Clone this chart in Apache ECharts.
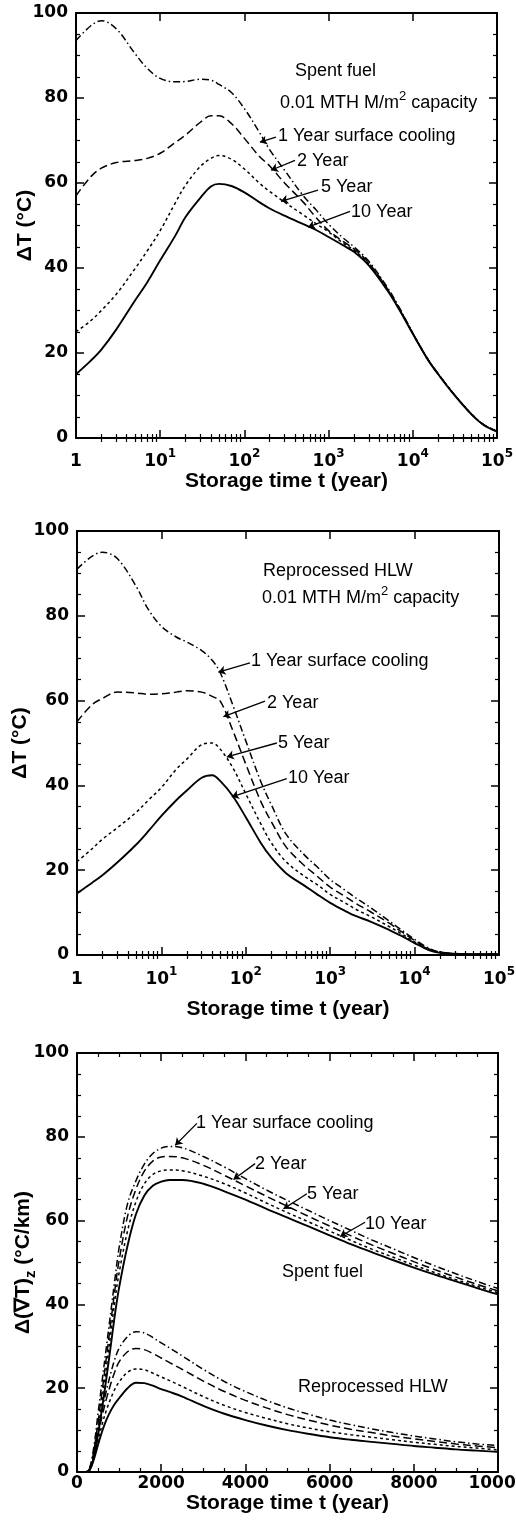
<!DOCTYPE html>
<html><head><meta charset="utf-8">
<script src="https://cdn.jsdelivr.net/npm/echarts@6/dist/echarts.min.js"></script>
<style>html,body{margin:0;padding:0;background:#fff}#c{width:516px;height:1529px}</style>
</head><body><div id="c"></div>
<script>
// ---------- DATA ----------
// Panels 1 and 2: storage time t (year), log scale
const tLog = [1,1.5,2,3,5,7,10,15,20,30,40,50,70,100,150,200,300,500,700,1000,1500,2000,3000,5000,7000,10000,15000,20000,30000,50000,70000,100000];

// Panel 1: Spent fuel, 0.01 MTHM/m2, Delta T (deg C)
const p1_1y  = [93.5,97,98.2,96.3,90.5,87,84.6,83.8,83.9,84.4,84.2,83.2,81.3,77.5,72,67.8,63,57,53.8,50.3,47,45,41.6,35.4,30.5,24.7,18.6,15.1,10.6,5.6,3.1,1.6];
const p1_2y  = [57,61.5,63.5,64.8,65.3,65.8,67,69.5,71.3,74.3,75.8,75.8,74,70.5,66.3,64,60,55.5,52,48.8,46.2,44.5,41.2,35.1,30.3,24.6,18.6,15.1,10.6,5.6,3.1,1.6];
const p1_5y  = [25,27.6,30,33.8,39.8,44,48.8,55.2,59.5,63.9,65.8,66.5,65.6,63.3,60,58,55.5,52.5,50.5,48.5,45.8,44.2,41,35,30.2,24.6,18.6,15.1,10.6,5.6,3.1,1.6];
const p1_10y = [15,18.2,20.8,25.5,32.3,36.6,41.8,47.5,52,56.5,59.2,59.8,59.3,57.8,55.5,54,52.3,50.3,49,47.3,45.3,43.8,40.6,34.7,30,24.5,18.5,15,10.5,5.5,3,1.5];

// Panel 2: Reprocessed HLW, 0.01 MTHM/m2, Delta T (deg C)
const p2_1y  = [91,94,95,93.5,87,81.5,77.5,75,73.8,71.8,69.5,66.5,59,50.5,41,35.5,28.5,23.5,20.8,17.8,15.3,13.5,11.2,8,5.9,3.7,1.5,0.7,0.3,0.2,0.2,0.2];
const p2_2y  = [55,59,60.5,62,61.8,61.5,61.6,62,62.3,62,61,59.8,53,45,36.3,31.5,25.5,21,18.6,16,13.8,12.2,10.2,7.5,5.5,3.4,1.4,0.7,0.3,0.2,0.2,0.2];
const p2_5y  = [22,25,27.3,30,33.6,36.5,39.5,43.8,46.2,49.6,50,48.5,44.2,38,31,26.5,22,18.5,16.6,14.3,12.3,10.8,9.1,6.7,5,3.1,1.3,0.6,0.3,0.2,0.2,0.2];
const p2_10y = [14.5,17,18.8,21.8,26,29.2,32.8,36.5,38.8,41.8,42.4,41,37.5,32.5,26.5,23,19.3,16.3,14.3,12.3,10.4,9.2,7.9,5.9,4.5,2.8,1.1,0.5,0.3,0.2,0.2,0.2];

// Panel 3: storage time t (year), linear scale; Delta(grad T)z (deg C/km)
const tLin = [0,200,300,400,500,600,700,800,900,1000,1200,1400,1600,1800,2000,2200,2500,3000,3500,4000,4500,5000,5500,6000,6500,7000,7500,8000,8500,9000,9500,10000];
const sf_1y   = [0,0,1,6,14,22,30,38,46,53.5,64,69.5,73.5,76,77.3,77.7,77.4,75.3,72.8,70,67.3,64.8,62.4,60,57.7,55.4,53.3,51.2,49.2,47.3,45.5,43.8];
const sf_2y   = [0,0,0.8,5,12,19.5,27.5,35.5,43.5,50.5,61,67.5,71.8,74.2,75.2,75.3,75,73.2,70.8,68.3,65.8,63.4,61,58.7,56.4,54.2,52.2,50.2,48.3,46.5,44.8,43.2];
const sf_5y   = [0,0,0.6,4,10,17.5,25,33,41,47.5,57.5,64.5,68.8,71,71.9,72.1,71.9,70.6,68.8,66.6,64.2,61.9,59.7,57.5,55.3,53.2,51.3,49.4,47.6,45.9,44.3,42.8];
const sf_10y  = [0,0,0.5,3.5,9,15.5,22.5,30,37.5,44,54,61.5,66,68.3,69.3,69.7,69.7,68.8,67,65,62.8,60.7,58.6,56.5,54.4,52.5,50.6,48.8,47.1,45.5,43.9,42.4];
const hlw_1y  = [0,0,0.8,5,10.5,15,19.5,23.5,27,29.5,32.3,33.5,33.2,32.1,30.8,29.6,27.7,24.5,21.6,19.2,17.1,15.3,13.8,12.4,11.3,10.3,9.4,8.6,7.9,7.2,6.7,6.3];
const hlw_2y  = [0,0,0.6,4,9,13.5,17.5,21,24,26.3,28.7,29.5,29.2,28.3,27.2,26.1,24.5,21.7,19.2,17.1,15.3,13.7,12.4,11.2,10.2,9.4,8.6,7.9,7.3,6.7,6.2,5.8];
const hlw_5y  = [0,0,0.5,3.5,7.5,11.5,14.8,17.5,19.8,21.5,23.8,24.6,24.4,23.6,22.7,21.8,20.4,18,15.9,14.2,12.8,11.5,10.5,9.6,8.9,8.3,7.7,7.1,6.6,6.1,5.7,5.3];
const hlw_10y = [0,0,0.5,3,6.5,9.8,12.5,14.6,16.3,17.6,20,21.3,21.2,20.6,19.8,19.1,18,15.8,13.9,12.4,11.1,10,9.1,8.3,7.7,7.2,6.7,6.2,5.8,5.4,5.1,4.8];

// Tick values & labels
const logMajor = [1,10,100,1000,10000,100000];
const logTickLabels = ['{b|1}','{b|10}{s|1}','{b|10}{s|2}','{b|10}{s|3}','{b|10}{s|4}','{b|10}{s|5}'];
const linMajor = [0,2000,4000,6000,8000,10000];
const linTickLabels = ['0','2000','4000','6000','8000','10000'];
const yMajor = [0,20,40,60,80,100];
const yTickLabels = ['0','20','40','60','80','100'];
const curveNames = ['1 Year surface cooling','2 Year','5 Year','10 Year'];

// ---------- STYLE ----------
const INK = '#000';
const TICKFONT = 'DejaVu Sans';
const TITLEFONT = 'Liberation Sans';
const dashes = [[7,3,1.5,3],[8,4],[3,3],'solid'];
const widths = [1.5,1.5,1.5,1.9];

const logMinor = [];
for (let d = 1; d < 100000; d *= 10) for (let k = 2; k <= 9; k++) logMinor.push(k * d);

function nearestIdx(arr, v) {
  let best = 0, bd = Infinity;
  arr.forEach((a, i) => { const d = Math.abs(Math.log10(a || 1e-9) - Math.log10(v || 1e-9)); if (d < bd) { bd = d; best = i; } });
  return best;
}

const richTick = {
  b: {fontFamily: TICKFONT, fontWeight: 'bold', fontSize: 17, lineHeight: 22, verticalAlign: 'bottom', color: INK},
  s: {fontFamily: TICKFONT, fontWeight: 'bold', fontSize: 12, lineHeight: 12, verticalAlign: 'top', color: INK}
};
const titleStyle = {fontFamily: TITLEFONT, fontWeight: 'bold', fontSize: 21, color: INK};

function logXAxes(gi, margin, nameGap) {
  const common = {type: 'log', logBase: 10, min: 1, max: 100000, gridIndex: gi, splitLine: {show: false}};
  return [
    Object.assign({}, common, {
      position: 'bottom',
      axisLine: {show: true, onZero: false, lineStyle: {color: INK, width: 2}},
      axisTick: {show: true, inside: true, length: 8, customValues: logMajor, lineStyle: {color: INK, width: 1.5}},
      axisLabel: {show: true, customValues: logMajor, margin: margin, alignMinLabel: 'center', alignMaxLabel: 'center',
        formatter: v => logTickLabels[nearestIdx(logMajor, v)], rich: richTick},
      name: 'Storage time t (year)', nameLocation: 'middle', nameGap: nameGap, nameTextStyle: titleStyle
    }),
    Object.assign({}, common, {
      position: 'bottom', axisLine: {show: false},
      axisTick: {show: true, inside: true, length: 4, customValues: logMinor, lineStyle: {color: INK, width: 1.2}},
      axisLabel: {show: false}
    }),
    Object.assign({}, common, {
      position: 'top',
      axisLine: {show: true, onZero: false, lineStyle: {color: INK, width: 2}},
      axisTick: {show: true, inside: true, length: 8, customValues: logMajor, lineStyle: {color: INK, width: 1.5}},
      axisLabel: {show: false}
    }),
    Object.assign({}, common, {
      position: 'top', axisLine: {show: false},
      axisTick: {show: true, inside: true, length: 4, customValues: logMinor, lineStyle: {color: INK, width: 1.2}},
      axisLabel: {show: false}
    })
  ];
}

function linXAxes(gi, margin, nameGap) {
  const common = {type: 'value', min: 0, max: 10000, interval: 2000, gridIndex: gi, splitLine: {show: false},
    minorTick: {show: true, splitNumber: 4, length: 4, lineStyle: {color: INK, width: 1.2}}};
  return [
    Object.assign({}, common, {
      position: 'bottom',
      axisLine: {show: true, onZero: false, lineStyle: {color: INK, width: 2}},
      axisTick: {show: true, inside: true, length: 8, lineStyle: {color: INK, width: 1.5}},
      axisLabel: {show: true, margin: margin, fontFamily: TICKFONT, fontWeight: 'bold', fontSize: 17, color: INK,
        alignMinLabel: 'center', alignMaxLabel: 'center',
        formatter: v => linTickLabels[linMajor.indexOf(v)]},
      name: 'Storage time t (year)', nameLocation: 'middle', nameGap: nameGap, nameTextStyle: titleStyle
    }),
    Object.assign({}, common, {
      position: 'top',
      axisLine: {show: true, onZero: false, lineStyle: {color: INK, width: 2}},
      axisTick: {show: true, inside: true, length: 8, lineStyle: {color: INK, width: 1.5}},
      axisLabel: {show: false}
    })
  ];
}

function yAxes(gi, name, nameGap, rich) {
  const common = {type: 'value', min: 0, max: 100, interval: 20, gridIndex: gi, splitLine: {show: false},
    axisTick: {show: true, inside: true, length: 8, lineStyle: {color: INK, width: 1.5}},
    minorTick: {show: true, splitNumber: 4, length: 4, lineStyle: {color: INK, width: 1.2}}};
  const nts = Object.assign({}, titleStyle);
  if (rich) nts.rich = rich;
  return [
    Object.assign({}, common, {
      position: 'left',
      axisLine: {show: true, onZero: false, lineStyle: {color: INK, width: 2}},
      axisLabel: {show: true, margin: 8, fontFamily: TICKFONT, fontWeight: 'bold', fontSize: 17, color: INK,
        formatter: v => yTickLabels[yMajor.indexOf(v)]},
      name: name, nameLocation: 'middle', nameRotate: 90, nameGap: nameGap, nameMoveOverlap: false, nameTextStyle: nts
    }),
    Object.assign({}, common, {
      position: 'right',
      axisLine: {show: true, onZero: false, lineStyle: {color: INK, width: 2}},
      axisLabel: {show: false}
    })
  ];
}

function zip(xs, ys) { return xs.map((x, i) => [x, ys[i]]); }

function arrow(from, to) {
  return {
    silent: true, animation: false, symbol: ['none', 'arrow'], symbolSize: 7,
    label: {show: false}, emphasis: {disabled: true},
    lineStyle: {type: 'solid', color: INK, width: 1.3},
    data: [[{coord: from}, {coord: to}]]
  };
}

function curve(name, k, xi, yi, xs, ys, arr) {
  const s = {
    name: name, type: 'line', xAxisIndex: xi, yAxisIndex: yi, data: zip(xs, ys),
    showSymbol: false, symbol: 'none', smooth: 0.35, silent: true, animation: false,
    lineStyle: {color: INK, width: widths[k], type: dashes[k]}
  };
  if (arr) s.markLine = arrow(arr[0], arr[1]);
  return s;
}

const series = [
  // panel 1
  curve(curveNames[0], 0, 0, 0, tLog, p1_1y,  [[237,70.8],[153,69.6]]),
  curve(curveNames[1], 1, 0, 0, tLog, p1_2y,  [[399,65.3],[207,63.0]]),
  curve(curveNames[2], 2, 0, 0, tLog, p1_5y,  [[748,58.3],[272,55.7]]),
  curve(curveNames[3], 3, 0, 0, tLog, p1_10y, [[1795,53.3],[569,49.6]]),
  // panel 2
  curve(curveNames[0], 0, 4, 2, tLog, p2_1y,  [[112,68.9],[47.4,66.7]]),
  curve(curveNames[1], 1, 4, 2, tLog, p2_2y,  [[169,59.9],[54.3,56.2]]),
  curve(curveNames[2], 2, 4, 2, tLog, p2_5y,  [[233,50.0],[59.6,46.7]]),
  curve(curveNames[3], 3, 4, 2, tLog, p2_10y, [[306,41.6],[68.3,37.3]]),
  // panel 3
  curve('Spent fuel ' + curveNames[0], 0, 8, 4, tLin, sf_1y,  [[2848,83.2],[2333,78.0]]),
  curve('Spent fuel ' + curveNames[1], 1, 8, 4, tLin, sf_2y,  [[4230,73.6],[3716,69.8]]),
  curve('Spent fuel ' + curveNames[2], 2, 8, 4, tLin, sf_5y,  [[5460,66.4],[4905,62.8]]),
  curve('Spent fuel ' + curveNames[3], 3, 8, 4, tLin, sf_10y, [[6843,59.6],[6250,56.2]]),
  curve('Reprocessed HLW ' + curveNames[0], 0, 8, 4, tLin, hlw_1y),
  curve('Reprocessed HLW ' + curveNames[1], 1, 8, 4, tLin, hlw_2y),
  curve('Reprocessed HLW ' + curveNames[2], 2, 8, 4, tLin, hlw_5y),
  curve('Reprocessed HLW ' + curveNames[3], 3, 8, 4, tLin, hlw_10y)
];

const ANN = 'Liberation Sans';
function txt(s, x, y, size) {
  return {type: 'text', silent: true, style: {text: s, x: x, y: y, fill: INK,
    font: (size || 18) + 'px "' + ANN + '"', textAlign: 'left', textVerticalAlign: 'middle', align: 'left', verticalAlign: 'middle'}};
}
function capTxt(x, y) {
  return {type: 'text', silent: true, style: {text: '{t|0.01 MTH M/m}{s|2}{t| capacity}', x: x, y: y, fill: INK,
    textAlign: 'left', textVerticalAlign: 'middle', align: 'left', verticalAlign: 'middle',
    rich: {
      t: {fontFamily: ANN, fontSize: 18, lineHeight: 22, verticalAlign: 'bottom', fill: INK, color: INK},
      s: {fontFamily: ANN, fontSize: 13, lineHeight: 13, verticalAlign: 'top', fill: INK, color: INK}
    }}};
}

const graphic = [
  txt('Spent fuel', 295, 71),
  capTxt(280, 101),
  txt('1 Year surface cooling', 278, 136),
  txt('2 Year', 297, 161),
  txt('5 Year', 321, 187),
  txt('10 Year', 351, 212),

  txt('Reprocessed HLW', 263, 571),
  capTxt(262, 596),
  txt('1 Year surface cooling', 251, 661),
  txt('2 Year', 267, 703),
  txt('5 Year', 278, 743),
  txt('10 Year', 288, 778),

  txt('1 Year surface cooling', 196, 1123),
  txt('2 Year', 255, 1164),
  txt('5 Year', 307, 1194),
  txt('10 Year', 365, 1224),
  txt('Spent fuel', 282, 1272),
  txt('Reprocessed HLW', 298, 1387)
];

const zRich = {
  m: {fontFamily: TITLEFONT, fontWeight: 'bold', fontSize: 21, lineHeight: 21, verticalAlign: 'top', color: INK},
  z: {fontFamily: TITLEFONT, fontWeight: 'bold', fontSize: 15, lineHeight: 15, padding: [10,0,0,0], verticalAlign: 'top', color: INK}
};

const option = {
  animation: false,
  backgroundColor: '#fff',
  grid: [
    {left: 76, top: 13, width: 421, height: 425, containLabel: false, outerBoundsMode: 'none'},
    {left: 77, top: 531, width: 422, height: 424, containLabel: false, outerBoundsMode: 'none'},
    {left: 77, top: 1053, width: 421, height: 419, containLabel: false, outerBoundsMode: 'none'}
  ],
  xAxis: [].concat(logXAxes(0, 10, 31), logXAxes(1, 11, 44), linXAxes(2, 3, 20)),
  yAxis: [].concat(yAxes(0, 'ΔT (°C)', 40), yAxes(1, 'ΔT (°C)', 46),
                   yAxes(2, '{m|Δ(∇T)}{z|z}{m| (°C/km)}', 43, zRich)),
  series: series,
  graphic: graphic
};

const chart = echarts.init(document.getElementById('c'), null, {renderer: 'canvas'});
chart.setOption(option);
</script>
</body></html>
